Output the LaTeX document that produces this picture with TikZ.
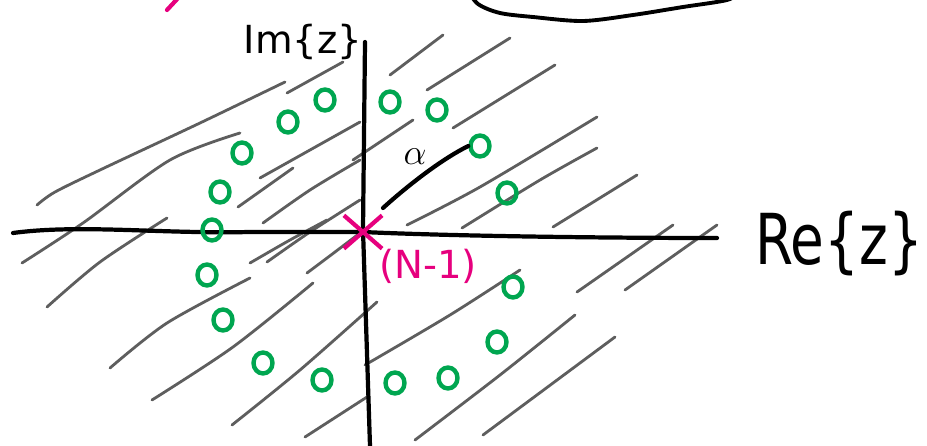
\documentclass[tikz,border=0pt]{standalone}
\usepackage{fontspec}
\setmainfont{DejaVu Sans}
\usetikzlibrary{shapes.geometric,shapes.misc}
\definecolor{hatchgray}{HTML}{5E5E5E}
\definecolor{rootgreen}{HTML}{00A650}
\definecolor{polepink}{HTML}{E6007E}
\tikzset{
  hatch/.style={hatchgray,line width=1.6pt,line cap=round,line join=round},
  axisline/.style={black,line width=2.4pt,line cap=round},
  rootmark/.style={ellipse,draw=rootgreen,line width=2.5pt,minimum width=0.38cm,minimum height=0.42cm,inner sep=0pt},
  polemark/.style={cross out,draw=polepink,line width=2.4pt,minimum width=0.68cm,minimum height=0.58cm,inner sep=0pt},
  hand/.style={black,inner sep=0pt},
}
\begin{document}
\begin{tikzpicture}[x=0.02cm,y=-0.02cm]
\useasboundingbox (0,0) rectangle (927,446);
\clip (0,0) rectangle (927,446);
% top fragments
\draw[polepink,line width=2.4pt,line cap=round] (167,10) -- (180,-4);
\draw[black,line width=2.2pt,line cap=round] plot[smooth] coordinates {(466,-12) (478,4) (500,13) (533,17) (583,21) (633,15) (683,7) (727,0) (740,-8)};
% hatching
\draw[hatch] plot[smooth] coordinates {(37,205) (55,192) (100,170) (200,123) (285,82)};
\draw[hatch] plot[smooth] coordinates {(287,93) (343,62)};
\draw[hatch] plot[smooth] coordinates {(22,263) (83,223) (170,160) (240,133)};
\draw[hatch] plot[smooth] coordinates {(47,307) (100,262) (167,218)};
\draw[hatch] plot[smooth] coordinates {(238,207) (293,168)};
\draw[hatch] plot[smooth] coordinates {(260,178) (310,150) (360,122)};
\draw[hatch] plot[smooth] coordinates {(263,223) (310,190) (360,160)};
\draw[hatch] plot[smooth] coordinates {(353,160) (413,120)};
\draw[hatch] plot[smooth] coordinates {(267,262) (310,232) (360,200)};
\draw[hatch] plot[smooth] coordinates {(110,368) (167,323) (250,278)};
\draw[hatch] plot[smooth] coordinates {(152,400) (233,347) (313,283)};
\draw[hatch] plot[smooth] coordinates {(232,425) (300,370) (377,302)};
\draw[hatch] plot[smooth] coordinates {(305,437) (367,397)};
\draw[hatch] plot[smooth] coordinates {(250,263) (290,240) (327,220)};
\draw[hatch] plot[smooth] coordinates {(307,273) (335,252) (360,233)};
\draw[hatch] plot[smooth] coordinates {(390,75) (443,35)};
\draw[hatch] plot[smooth] coordinates {(427,90) (510,38)};
\draw[hatch] plot[smooth] coordinates {(453,128) (555,65)};
\draw[hatch] plot[smooth] coordinates {(407,225) (480,187) (597,117)};
\draw[hatch] plot[smooth] coordinates {(462,228) (540,180) (597,148)};
\draw[hatch] plot[smooth] coordinates {(553,227) (637,175)};
\draw[hatch] plot[smooth] coordinates {(365,365) (450,315) (520,270)};
\draw[hatch] plot[smooth] coordinates {(577,292) (673,225)};
\draw[hatch] plot[smooth] coordinates {(625,290) (717,225)};
\draw[hatch] plot[smooth] coordinates {(415,440) (500,375) (575,315)};
\draw[hatch] plot[smooth] coordinates {(483,435) (615,337)};
% axes
\coordinate (xl) at (13,233);
\coordinate (xr) at (717,238);
\coordinate (yt) at (365,42);
\coordinate (yb) at (370,446);
\draw[axisline] (xl) .. controls (80,224) and (160,234) .. (250,232) -- (363,232) .. controls (450,236) and (600,238) .. (xr);
\draw[axisline] (yt) -- (363,230) -- (yb);
% pole
\node[polemark] (pole) at (363,232) {};
\node[polepink,font=\fontsize{22}{22}\selectfont,inner sep=0pt] (polelbl) at (428,266) {(N-1)};
% roots
\foreach \n/\x/\y in {r1/212/230,r2/220/192,r3/242/153,r4/288/122,r5/325/100,r6/390/102,r7/437/110,r8/480/146,r9/507/193,r10/513/287,r11/497/342,r12/448/378,r13/395/383,r14/322/380,r15/263/363,r16/223/320,r17/207/275}
  \node[rootmark] (\n) at (\x,\y) {};
% alpha
\coordinate (alphaend) at (383,208);
\draw[black,line width=2.4pt,line cap=round] (r8.west) .. controls (440,160) and (405,188) .. (alphaend);
\node[hand,font=\fontsize{22}{22}\selectfont] (alpha) at (415,157) {$\alpha$};
% axis labels
\node[hand,font=\fontsize{40}{40}\selectfont] (relbl) at (839,244) {\scalebox{0.78}[1]{Re\{z\}}};
\node[hand,font=\fontsize{22}{22}\selectfont] (imlbl) at (303,42) {Im\{z\}};
\end{tikzpicture}
\end{document}
